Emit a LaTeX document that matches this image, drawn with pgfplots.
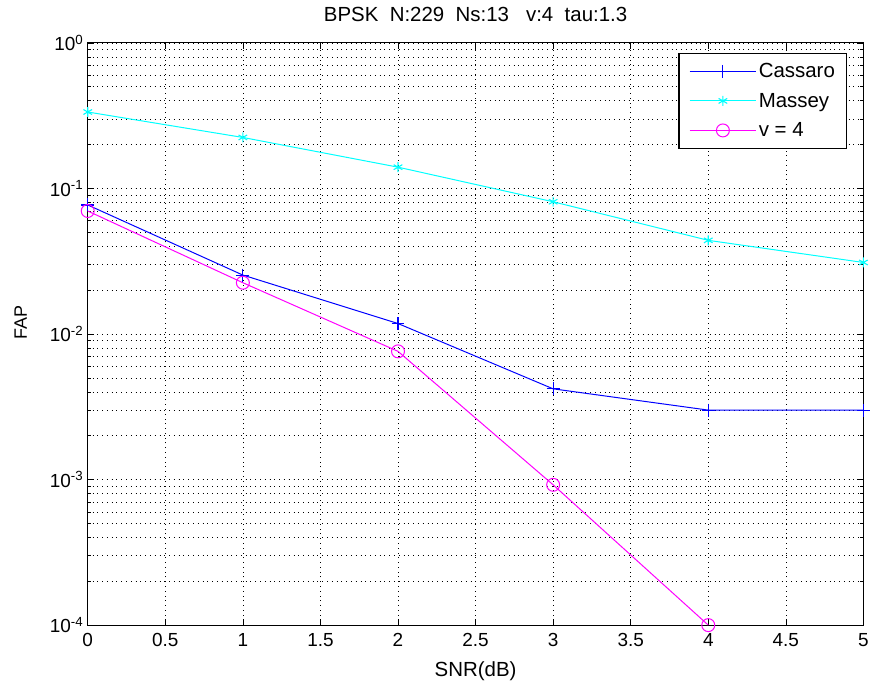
\documentclass[border=0pt]{standalone}
\usepackage{pgfplots}
\pgfplotsset{compat=1.18}
\usepackage{fontspec}
\setmainfont{Liberation Sans}
\definecolor{mblue}{rgb}{0,0,1}
\definecolor{mcyan}{rgb}{0,1,1}
\definecolor{mmag}{rgb}{1,0,1}
\newcommand{\mf}{\fontsize{20.5pt}{24pt}\selectfont}
\newcommand{\tf}{\fontsize{19pt}{22pt}\selectfont}
\begin{document}
\begin{tikzpicture}
\begin{axis}[
  scale only axis,
  width=778pt, height=584pt,
  xmin=0, xmax=5, ymin=1e-4, ymax=1,
  ymode=log,
  /pgf/number format/assume math mode=true,
  xtick={0,0.5,...,5},
  xticklabels={0,0.5,1,1.5,2,2.5,3,3.5,4,4.5,5},
  ytick={1e-4,1e-3,1e-2,1e-1,1},
  yticklabels={10\textsuperscript{-4},10\textsuperscript{-3},10\textsuperscript{-2},10\textsuperscript{-1},10\textsuperscript{0}},
  ticklabel style={font=\tf},
  xticklabel style={yshift=-5pt},
  yticklabel style={xshift=-1pt},
  tick align=inside,
  tick pos=both,
  major tick length=6pt, minor tick length=3pt,
  grid=both,
  major grid style={black, line width=0.6pt, dash pattern=on 0.8pt off 4pt},
  minor grid style={black, line width=0.6pt, dash pattern=on 0.8pt off 4pt},
  minor x tick num=0,
  axis line style={black, line width=1.2pt},
  every tick/.style={black, line width=0.6pt},
  title={BPSK\ \ N:229\ \ Ns:13\ \ \ v:4\ \ tau:1.3},
  title style={font=\mf, at={(axis description cs:0.5,1)}, anchor=base, yshift=15pt},
  xlabel={SNR(dB)}, ylabel={FAP},
  xlabel style={font=\mf, at={(axis description cs:0.5,0)}, anchor=base, yshift=-52pt},
  ylabel style={font=\fontsize{18pt}{21pt}\selectfont, at={(axis description cs:0,0.52)}, anchor=base, yshift=61pt},
  legend style={at={(rel axis cs:1,1)}, xshift=-16pt, yshift=-10pt, anchor=north east, draw=black, line width=1.2pt, font=\mf, row sep=10pt, inner xsep=10pt, inner ysep=8pt, cells={anchor=west}},
  legend image code/.code={\draw[line width=1pt, mark repeat=2, mark phase=2] plot coordinates {(0pt,0pt) (33.5pt,0pt) (67pt,0pt)};},
  clip=false,
]
\coordinate (sw) at (rel axis cs:0,0);
\coordinate (ne) at (rel axis cs:1,1);
\addplot[mblue, line width=1pt, mark=+, mark size=6.5pt, mark options={line width=1.1pt}] coordinates {
(0,0.077) (1,0.0254) (2,0.0118) (3,0.0042) (4,0.0030) (5,0.0030)};
\addlegendentry{Cassaro}
\addplot[mcyan, line width=1pt, mark=asterisk, mark size=5pt, mark options={line width=1.1pt}] coordinates {
(0,0.335) (1,0.224) (2,0.140) (3,0.081) (4,0.0440) (5,0.0310)};
\addlegendentry{Massey}
\addplot[mmag, line width=1pt, mark=o, mark size=6.5pt, mark options={line width=1pt}] coordinates {
(0,0.070) (1,0.0225) (2,0.0076) (3,0.00092) (4,0.0001)};
\addlegendentry{v = 4}
\end{axis}
\path (sw) ++(-88pt,-56pt);
\path (ne) ++(6pt,43pt);
\end{tikzpicture}
\end{document}
